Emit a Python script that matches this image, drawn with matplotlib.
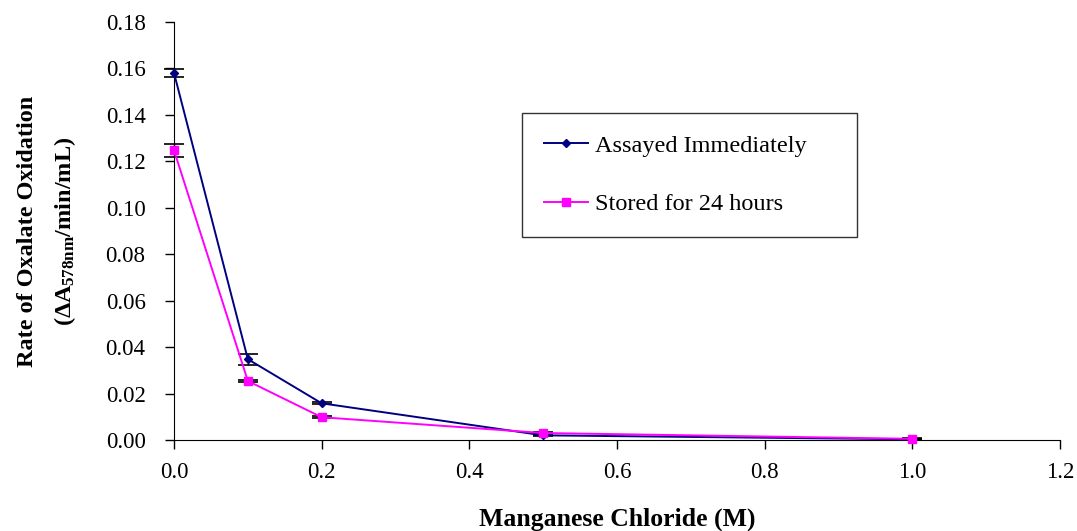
import numpy as np
import matplotlib.pyplot as plt

plt.rcParams['font.family'] = ['Liberation Serif', 'DejaVu Serif']
plt.rcParams['mathtext.fontset'] = 'custom'
plt.rcParams['mathtext.rm'] = 'Liberation Serif'
plt.rcParams['mathtext.bf'] = 'Liberation Serif:bold'
plt.rcParams['mathtext.it'] = 'Liberation Serif:italic'

# concentracao de MnCl2 (M)
conc = [0.0, 0.1, 0.2, 0.5, 1.0]

# taxa de oxidacao - ensaio imediato
imediato = [0.158, 0.0348, 0.0158, 0.0020, 0.0003]
erro_imediato = [0.0017, 0.0023, 0.0005, 0.0003, 0.0002]

# taxa de oxidacao - armazenado 24 h
armazenado = [0.1247, 0.0254, 0.0098, 0.0030, 0.0005]
erro_armazenado = [0.0027, 0.0005, 0.0005, 0.0003, 0.0002]

xticks = [0.0, 0.2, 0.4, 0.6, 0.8, 1.0, 1.2]
yticks = [0.00, 0.02, 0.04, 0.06, 0.08, 0.10, 0.12, 0.14, 0.16, 0.18]

fig = plt.figure(figsize=(10.77, 5.31), dpi=100)
ax = fig.add_axes([0.1616, 0.1714, 0.8224, 0.7872])

series = [
    (imediato, erro_imediato, '#000080', 'D', 4.5, 'Assayed Immediately'),
    (armazenado, erro_armazenado, '#FF00FF', 's', 5.5, 'Stored for 24 hours'),
]
for y, err, cor, mk, ms, nome in series:
    eb = ax.errorbar(conc, y, yerr=err, color=cor, marker=mk, markersize=ms,
                     linewidth=1.4, ecolor='black', elinewidth=1,
                     capsize=7, capthick=1.2, label=nome, zorder=3)
    for art in eb.lines[0:1] + tuple(eb.lines[1]) + tuple(eb.lines[2]):
        art.set_clip_on(False)

ax.set_xlim(0, 1.2)
ax.set_ylim(0, 0.18)
ax.set_xticks(xticks)
ax.set_xticklabels([f'{v:.1f}' for v in xticks])
ax.set_yticks(yticks)
ax.set_yticklabels([f'{v:.2f}' for v in yticks])
ax.tick_params(labelsize=16.5, direction='out', length=6.5, width=1)
ax.tick_params(axis='x', pad=9)
ax.tick_params(axis='y', pad=14)
ax.spines['top'].set_visible(False)
ax.spines['right'].set_visible(False)

ax.set_xlabel('Manganese Chloride (M)', fontsize=18.5, fontweight='bold', labelpad=18)
ax.set_ylabel('Rate of Oxalate Oxidation\n'
              r'($\mathbf{\Delta A}_{\mathbf{578nm}}$/min/mL)',
              fontsize=17.5, fontweight='bold', labelpad=20, linespacing=1.75)

handles, labels = ax.get_legend_handles_labels()
handles = [h[0] for h in handles]
leg = ax.legend(handles, labels, loc='upper left',
                bbox_to_anchor=(0.393, 0.782, 0.378, 0.0), mode='expand',
                fontsize=17.5, frameon=True, fancybox=False, edgecolor='black',
                handlelength=1.8, handletextpad=0.3, labelspacing=1.5,
                borderpad=0.9, borderaxespad=0)
leg.get_frame().set_linewidth(1)

fig.savefig('out.png', dpi=100)
